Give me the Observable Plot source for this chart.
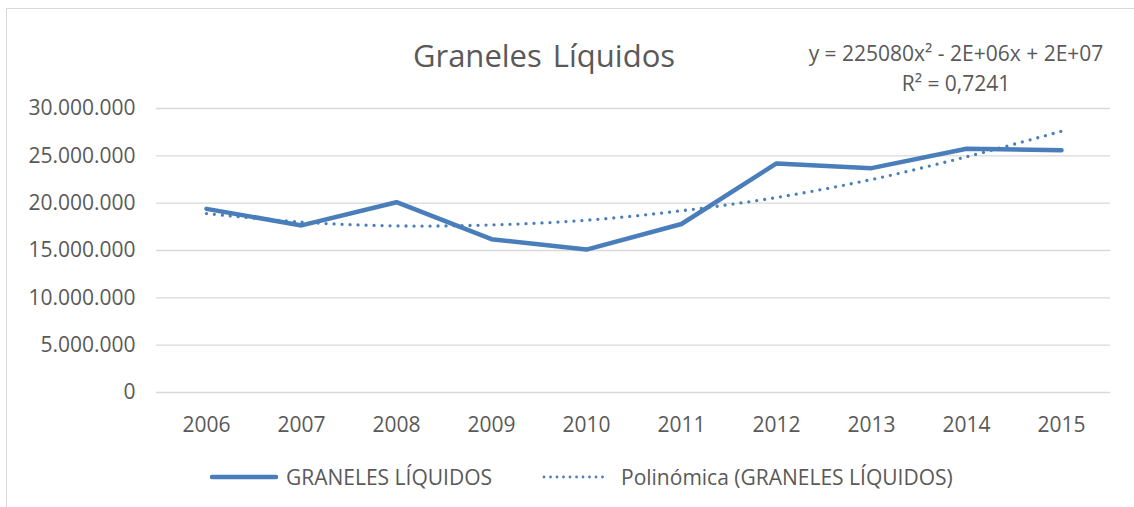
<!DOCTYPE html>
<html>
<head>
<meta charset="utf-8">
<script src="https://cdn.jsdelivr.net/npm/d3@7"></script>
<script src="https://cdn.jsdelivr.net/npm/@observablehq/plot@0.6"></script>
<style>
  html, body { margin: 0; padding: 0; background: #fff; }
  #wrap { position: relative; width: 1134px; height: 507px; overflow: hidden; font-family: "Open Sans", sans-serif; color: #595959; }
  #frame { position: absolute; left: 6px; top: 8px; width: 1200px; height: 600px; border: 1.5px solid #d9d9d9; box-sizing: border-box; }
  .t { position: absolute; white-space: nowrap; transform: translate(-50%, -50%); }
  #title { left: 544px; top: 55px; font-size: 31px; word-spacing: 3px; }
  #eq1 { left: 956px; top: 53px; font-size: 21px; }
  #eq2 { left: 956px; top: 83px; font-size: 21px; }
  #chart { position: absolute; left: 0; top: 0; }
  .leg { position: absolute; top: 477px; transform: translateY(-50%); font-size: 21px; white-space: nowrap; display: flex; align-items: center; }
  .leg svg { margin-right: 8px; }
</style>
</head>
<body>
<div id="wrap">
  <div id="frame"></div>
  <div id="chart"></div>
  <div id="title" class="t"></div>
  <div id="eq1" class="t"></div>
  <div id="eq2" class="t"></div>
  <div id="leg1" class="leg"></div>
  <div id="leg2" class="leg"></div>
</div>
<script>
const titleText = "Graneles Líquidos";
const equationText = "y = 225080x² - 2E+06x + 2E+07";
const r2Text = "R² = 0,7241";
const seriesName = "GRANELES LÍQUIDOS";
const trendName = "Polinómica (GRANELES LÍQUIDOS)";
const color = "#4a7ebb";

const years = ["2006","2007","2008","2009","2010","2011","2012","2013","2014","2015"];
const values = [19400000, 17650000, 20100000, 16200000, 15100000, 17800000, 24200000, 23700000, 25750000, 25600000];
const trendValues = [18900000, 18000000, 17600000, 17700000, 18200000, 19200000, 20600000, 22500000, 24900000, 27600000];
const yTicks = [0, 5000000, 10000000, 15000000, 20000000, 25000000, 30000000];

const data = years.map((year, i) => ({year, value: values[i]}));
const trend = years.map((year, i) => ({year, value: trendValues[i]}));

const locale = d3.formatLocale({decimal: ",", thousands: ".", grouping: [3], currency: ["", ""]});
const fmt = locale.format(",");

const plot = Plot.plot({
  width: 1134,
  height: 507,
  marginLeft: 156,
  marginRight: 24,
  marginTop: 108,
  marginBottom: 115,
  style: {fontFamily: "'Open Sans', sans-serif", fontSize: "21px", color: "#595959", background: "transparent", overflow: "visible"},
  x: {type: "point", domain: years, padding: 0.5, label: null, tickSize: 0, tickPadding: 25},
  y: {domain: [0, 30000000], ticks: yTicks, tickFormat: fmt, tickSize: 0, tickPadding: 21, label: null},
  marks: [
    Plot.ruleY(yTicks, {stroke: "#d9d9d9", strokeWidth: 1.3}),
    Plot.line(data, {x: "year", y: "value", stroke: color, strokeWidth: 4.5, strokeLinejoin: "round", strokeLinecap: "round"}),
    Plot.line(trend, {x: "year", y: "value", stroke: color, strokeWidth: 3.3, strokeDasharray: "0 8", strokeLinecap: "round", curve: "catmull-rom"})
  ]
});
document.getElementById("chart").appendChild(plot);

document.getElementById("title").textContent = titleText;
document.getElementById("eq1").textContent = equationText;
document.getElementById("eq2").textContent = r2Text;

const leg1 = document.getElementById("leg1");
leg1.style.left = "210px";
leg1.innerHTML = `<svg width="68" height="10"><line x1="2" y1="5" x2="66" y2="5" stroke="${color}" stroke-width="4.5" stroke-linecap="round"/></svg><span></span>`;
leg1.querySelector("span").textContent = seriesName;

const leg2 = document.getElementById("leg2");
leg2.style.left = "541px";
leg2.innerHTML = `<svg width="66" height="10"><line x1="3" y1="5" x2="62" y2="5" stroke="${color}" stroke-width="2.8" stroke-dasharray="0 6.5" stroke-linecap="round"/></svg><span style="margin-left:6px"></span>`;
leg2.querySelector("span").textContent = trendName;
</script>
</body>
</html>
